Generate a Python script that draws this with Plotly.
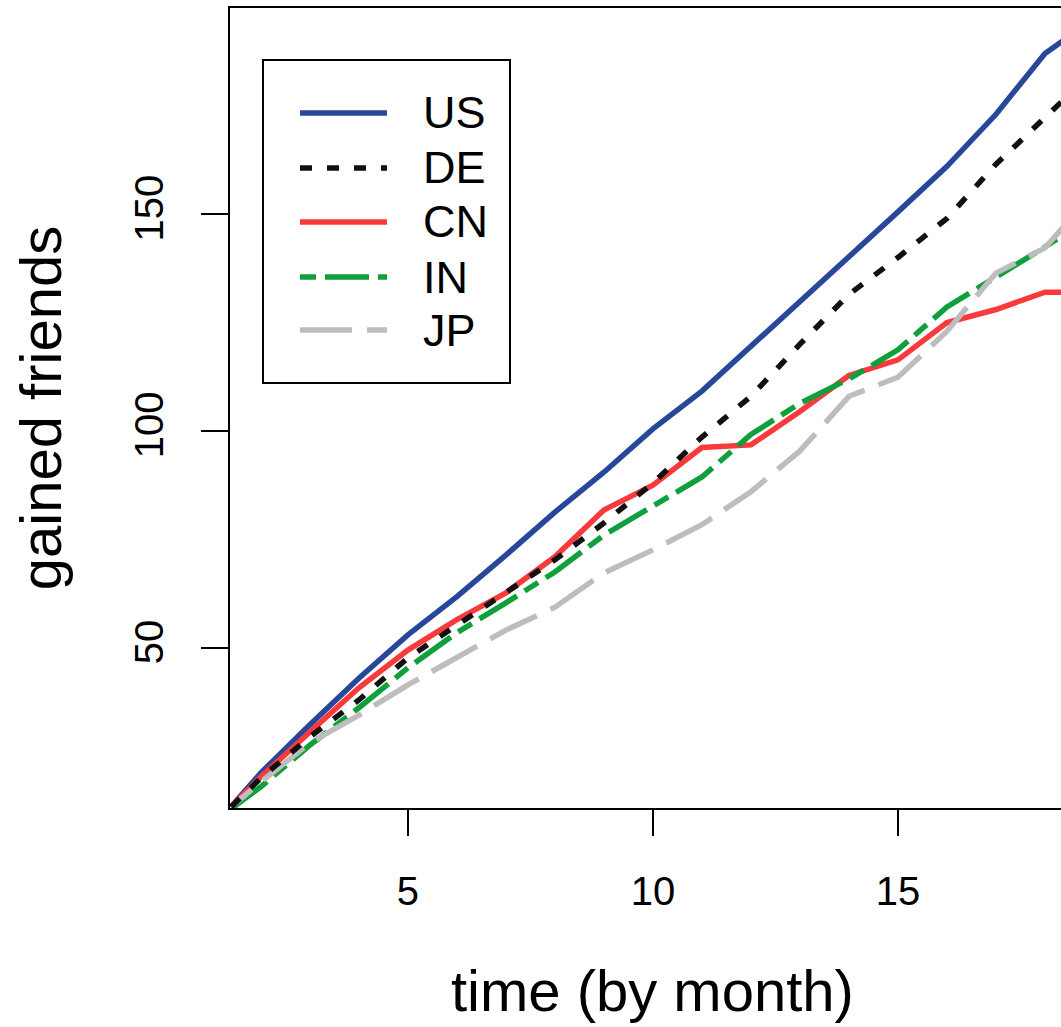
import plotly.graph_objects as go

# Monthly gained friends per country
months = list(range(1, 20))
us = [8.4, 21.2, 32.3, 43.0, 53.0, 61.8, 71.4, 81.3, 90.5, 100.5, 109.2, 119.5,
      129.5, 140.0, 150.5, 161.0, 173.0, 187.0, 195.0]
de = [9.0, 20.0, 29.5, 38.0, 47.7, 55.3, 62.9, 70.3, 78.8, 88.0, 98.6, 108.0,
      120.0, 131.5, 140.0, 149.0, 161.5, 172.5, 183.0]
cn = [8.9, 20.3, 30.6, 40.8, 49.5, 56.5, 62.7, 71.0, 81.8, 87.5, 96.2, 96.8,
      104.5, 112.8, 116.4, 125.0, 128.0, 132.0, 132.0]
india = [9.6, 18.0, 27.6, 36.2, 45.4, 53.5, 60.4, 67.5, 76.0, 82.6, 89.4, 99.2,
         106.4, 112.0, 118.7, 128.6, 135.5, 142.4, 150.0]
jp = [9.6, 19.1, 28.1, 34.5, 41.5, 47.9, 54.1, 59.4, 67.3, 72.6, 78.4, 86.0,
      95.4, 108.0, 112.4, 123.0, 136.4, 142.2, 155.0]

names = ["US", "DE", "CN", "IN", "JP"]
series = {"US": us, "DE": de, "CN": cn, "IN": india, "JP": jp}
colors = {"US": "#27479A", "DE": "#111111", "CN": "#F83A3D",
          "IN": "#0FA03C", "JP": "#BDBDBD"}
dashes = {"US": "solid", "DE": "12px,15px", "CN": "solid",
          "IN": "16px,9px,44px,9px", "JP": "52px,15px"}
draw_order = ["US", "CN", "IN", "JP", "DE"]

x_ticks = [5, 10, 15]
y_ticks = [50, 100, 150]

FONT = "Liberation Sans, Arial, sans-serif"
LW = 5.5

fig = go.Figure()
for name in draw_order:
    fig.add_trace(go.Scatter(
        x=months, y=series[name], mode="lines", name=name,
        line=dict(color=colors[name], width=LW, dash=dashes[name]),
        showlegend=False,
    ))

# Plot area geometry (pixels) for the hand-drawn legend box
W, H = 1061, 1027
ml, mr, mt, mb = 230, 0, 8, 219
pw, ph = W - ml - mr, H - mt - mb


def px_x(p):
    return (p - ml) / pw


def px_y(p):
    return (H - mb - p) / ph


shapes = [dict(type="rect", xref="paper", yref="paper",
               x0=px_x(263), x1=px_x(510), y0=px_y(383), y1=px_y(60),
               line=dict(color="black", width=2), fillcolor="white", layer="above")]
annotations = []
row_y = [113, 168, 222, 277, 330]
for name, yy in zip(names, row_y):
    shapes.append(dict(type="line", xref="paper", yref="paper",
                       x0=px_x(300), x1=px_x(387), y0=px_y(yy), y1=px_y(yy),
                       line=dict(color=colors[name], width=LW, dash=dashes[name]),
                       layer="above"))
    annotations.append(dict(xref="paper", yref="paper", x=px_x(421), y=px_y(yy),
                            text=name, showarrow=False, xanchor="left",
                            yanchor="middle",
                            font=dict(family=FONT, size=45, color="black")))

# x-axis title, centred slightly right of the visible plot area
annotations.append(dict(xref="paper", yref="paper", x=px_x(652), y=px_y(1018),
                        text="time (by month)", showarrow=False,
                        xanchor="center", yanchor="bottom", yshift=-7,
                        font=dict(family=FONT, size=58, color="black")))

fig.update_layout(
    width=W, height=H,
    margin=dict(l=ml, r=mr, t=mt, b=mb, pad=0),
    paper_bgcolor="white", plot_bgcolor="white",
    font=dict(family=FONT, color="black"),
    shapes=shapes, annotations=annotations,
    xaxis=dict(
        range=[1.37, 18.327], tickvals=x_ticks, ticks="outside", ticklen=26,
        tickwidth=2, tickcolor="black", showline=True, linecolor="black",
        linewidth=2, mirror=True, showgrid=False, zeroline=False,
        tickfont=dict(size=40), ticklabelstandoff=21,
    ),
    yaxis=dict(
        range=[13.1, 197.5], tickvals=y_ticks, ticks="outside", ticklen=27,
        tickwidth=2, tickcolor="black", showline=True, linecolor="black",
        linewidth=2, showgrid=False, zeroline=False, tickangle=-90,
        tickfont=dict(size=40), ticklabelstandoff=22,
        title=dict(text="gained friends", font=dict(size=58), standoff=47),
    ),
)

fig.write_html("out.html")
